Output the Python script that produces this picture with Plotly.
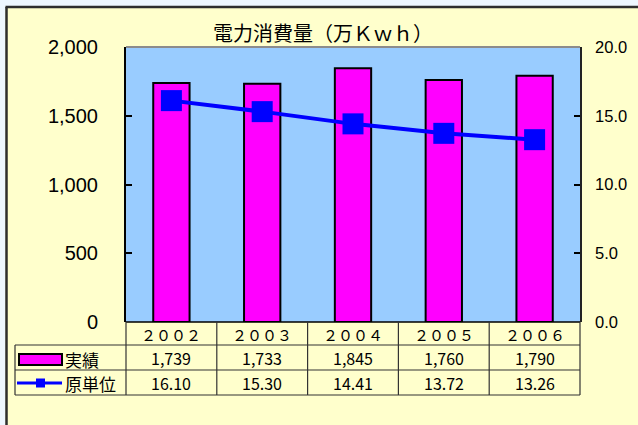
import plotly.graph_objects as go

# ---- data -------------------------------------------------------------
years = ["２００２", "２００３", "２００４", "２００５", "２００６"]
jisseki = [1739, 1733, 1845, 1760, 1790]          # 実績 (万Kwh)
gentani = [16.10, 15.30, 14.41, 13.72, 13.26]     # 原単位
jisseki_labels = ["1,739", "1,733", "1,845", "1,760", "1,790"]
gentani_labels = ["16.10", "15.30", "14.41", "13.72", "13.26"]
left_ticks = [0, 500, 1000, 1500, 2000]
right_ticks = [0, 5, 10, 15, 20]

# ---- geometry (pixels) ------------------------------------------------
W, H = 638, 425
L, R, T, B = 126, 580, 47, 322          # plot area box
PW, PH = R - L, B - T


def px(x):
    return (x - L) / PW


def py(y):
    return 1 - (y - T) / PH


YELLOW = "#FFFFCC"
PLOTBLUE = "#99CCFF"
OUTER = "#EEF7FF"
MAGENTA = "#FF00FF"
BLUE = "#0000FF"
GRID = "#333333"
CJK = "Noto Sans CJK JP"
SANS = "Liberation Sans, Arial"

fig = go.Figure()

fig.add_trace(go.Bar(
    x=years, y=jisseki, name="実績", width=0.4,
    marker=dict(color=MAGENTA, line=dict(color="black", width=2)),
    yaxis="y",
))
fig.add_trace(go.Scatter(
    x=years, y=gentani, name="原単位", mode="lines+markers",
    line=dict(color=BLUE, width=4),
    marker=dict(symbol="square", size=21, color=BLUE),
    yaxis="y2",
))

shapes = []

# outer frame: pale strip at top/left and dark edge
shapes.append(dict(type="rect", xref="paper", yref="paper",
                   x0=px(-5), x1=px(W + 5), y0=py(-5), y1=py(6),
                   fillcolor=OUTER, line=dict(width=0), layer="above"))
shapes.append(dict(type="rect", xref="paper", yref="paper",
                   x0=px(-5), x1=px(5.5), y0=py(-5), y1=py(H + 5),
                   fillcolor=OUTER, line=dict(width=0), layer="above"))
shapes.append(dict(type="line", xref="paper", yref="paper",
                   x0=px(5.5), x1=px(W + 5), y0=py(7), y1=py(7),
                   line=dict(color="#2E2E2E", width=2.5)))
shapes.append(dict(type="line", xref="paper", yref="paper",
                   x0=px(6.5), x1=px(6.5), y0=py(7), y1=py(H + 5),
                   line=dict(color="#2E2E2E", width=2.5)))

# top edge of the plot area
shapes.append(dict(type="line", xref="paper", yref="paper",
                   x0=0, x1=1, y0=1, y1=1,
                   line=dict(color="#8C8C8C", width=2)))

# data table grid
row_y = [322, 345, 370, 395]
shapes.append(dict(type="line", xref="paper", yref="paper",
                   x0=px(L), x1=px(R), y0=py(row_y[0]), y1=py(row_y[0]),
                   line=dict(color="black", width=1.5)))
for yy in row_y[1:]:
    shapes.append(dict(type="line", xref="paper", yref="paper",
                       x0=px(15), x1=px(R), y0=py(yy), y1=py(yy),
                       line=dict(color=GRID, width=1.2)))
shapes.append(dict(type="line", xref="paper", yref="paper",
                   x0=px(15), x1=px(15), y0=py(345), y1=py(395),
                   line=dict(color=GRID, width=1.2)))
shapes.append(dict(type="line", xref="paper", yref="paper",
                   x0=px(L), x1=px(L), y0=py(322), y1=py(395),
                   line=dict(color=GRID, width=1.2)))
shapes.append(dict(type="line", xref="paper", yref="paper",
                   x0=px(R), x1=px(R), y0=py(322), y1=py(395),
                   line=dict(color=GRID, width=1.2)))
for i in range(len(years) - 1):
    shapes.append(dict(type="line", xref="x", yref="paper",
                       x0=i + 0.5, x1=i + 0.5, y0=py(322), y1=py(395),
                       line=dict(color=GRID, width=1.2)))

# legend keys inside the table
shapes.append(dict(type="rect", xref="paper", yref="paper",
                   x0=px(19), x1=px(62), y0=py(365), y1=py(354),
                   fillcolor=MAGENTA, line=dict(color="black", width=2)))
shapes.append(dict(type="line", xref="paper", yref="paper",
                   x0=px(17), x1=px(62), y0=py(383), y1=py(383),
                   line=dict(color=BLUE, width=3)))
shapes.append(dict(type="rect", xref="paper", yref="paper",
                   x0=px(36), x1=px(45), y0=py(387.5), y1=py(378.5),
                   fillcolor=BLUE, line=dict(width=0)))

annotations = []
annotations.append(dict(text="電力消費量（万Ｋｗｈ）", xref="paper", yref="paper",
                        x=px(323), y=py(33), xanchor="center", yanchor="middle",
                        showarrow=False, font=dict(family=CJK, size=20, color="black")))

row_font = dict(family=CJK, size=16, color="black")
for i, yr in enumerate(years):
    annotations.append(dict(text=yr, xref="x", yref="paper", x=yr, y=py(334),
                            xanchor="center", yanchor="middle", showarrow=False,
                            font=dict(family=CJK, size=15, color="black")))
    annotations.append(dict(text=jisseki_labels[i], xref="x", yref="paper", x=yr,
                            y=py(358), xanchor="center", yanchor="middle",
                            showarrow=False, font=row_font))
    annotations.append(dict(text=gentani_labels[i], xref="x", yref="paper", x=yr,
                            y=py(382.5), xanchor="center", yanchor="middle",
                            showarrow=False, font=row_font))

annotations.append(dict(text="実績", xref="paper", yref="paper", x=px(63), y=py(359),
                        xanchor="left", yanchor="middle", showarrow=False,
                        font=dict(family=CJK, size=17, color="black")))
annotations.append(dict(text="原単位", xref="paper", yref="paper", x=px(63), y=py(383),
                        xanchor="left", yanchor="middle", showarrow=False,
                        font=dict(family=CJK, size=17, color="black")))

fig.update_layout(
    width=W, height=H,
    margin=dict(l=L, r=W - R, t=T, b=H - B, pad=0),
    paper_bgcolor=YELLOW,
    plot_bgcolor=PLOTBLUE,
    showlegend=False,
    bargap=0.6,
    xaxis=dict(type="category", range=[-0.5, len(years) - 0.5],
               showticklabels=False, ticks="", showgrid=False,
               showline=False, zeroline=False, fixedrange=True),
    yaxis=dict(range=[0, 2000], tickvals=left_ticks, tickformat=",",
               ticks="inside", ticklen=6, tickwidth=1.5, tickcolor="black",
               showline=True, linecolor="black", linewidth=2,
               showgrid=False, zeroline=False,
               ticklabelstandoff=22,
               tickfont=dict(family=SANS, size=20, color="black")),
    yaxis2=dict(range=[0, 20], tickvals=right_ticks, tickformat=".1f",
                overlaying="y", side="right",
                ticks="inside", ticklen=6, tickwidth=1.5, tickcolor="black",
                showline=True, linecolor="#222222", linewidth=1.5,
                showgrid=False, zeroline=False,
                ticklabelstandoff=10,
                tickfont=dict(family=SANS, size=16.5, color="black")),
    shapes=shapes,
    annotations=annotations,
)

fig.write_html("out.html")
